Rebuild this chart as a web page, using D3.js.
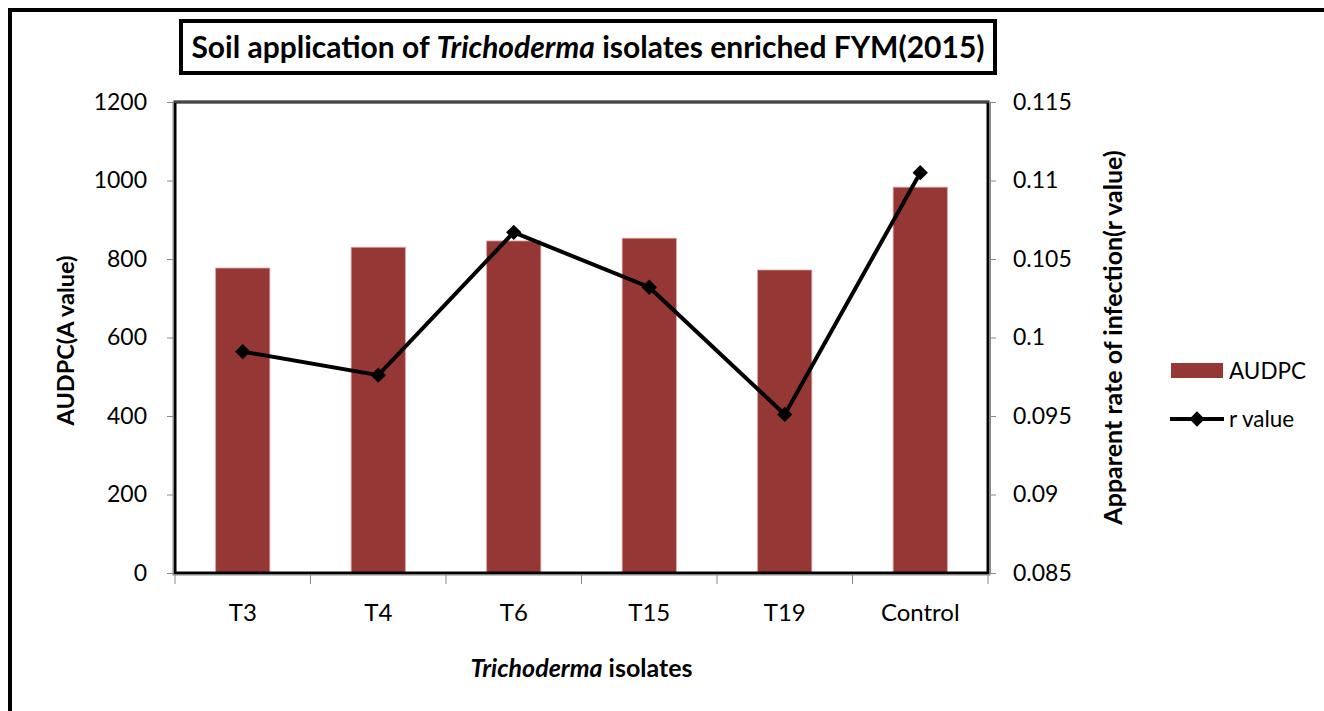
<!DOCTYPE html>
<html>
<head>
<meta charset="utf-8">
<script src="https://cdn.jsdelivr.net/npm/d3@7"></script>
<style>
  body { margin: 0; background: #fff; }
  text { font-family: Lato, "Open Sans", sans-serif; fill: #000; }
</style>
</head>
<body>
<div id="chart"></div>
<script>
/* DATA */
const isolates = ["T3", "T4", "T6", "T15", "T19", "Control"];
const audpc = [777, 830, 846, 853, 772, 983];
const rValue = [0.0991, 0.0976, 0.1067, 0.1032, 0.0951, 0.1105];
const leftTicks = [0, 200, 400, 600, 800, 1000, 1200];
const rightTicks = [0.085, 0.09, 0.095, 0.1, 0.105, 0.11, 0.115];

const width = 1324, height = 711;
const plot = { left: 175, right: 988, top: 102, bottom: 573 };
const barColor = "#953735";

const svg = d3.select("#chart").append("svg")
    .attr("width", width)
    .attr("height", height);

// outer frame (runs off the right and bottom edges)
svg.append("rect")
    .attr("x", 10).attr("y", 10)
    .attr("width", 1400).attr("height", 800)
    .attr("fill", "none").attr("stroke", "#000").attr("stroke-width", 4);

// title box
svg.append("rect")
    .attr("x", 181).attr("y", 21)
    .attr("width", 814).attr("height", 52)
    .attr("fill", "#fff").attr("stroke", "#000").attr("stroke-width", 4);

let title = svg.append("text")
    .attr("x", 588).attr("y", 58)
    .attr("text-anchor", "middle")
    .style("font-size", "30px").style("font-weight", "bold");
title.append("tspan").text("Soil application of ");
title.append("tspan").style("font-style", "italic").text("Trichoderma");
title.append("tspan").text(" isolates enriched FYM(2015)");

// scales
const x = d3.scaleBand()
    .domain(isolates)
    .range([plot.left, plot.right])
    .paddingInner(0.6)
    .paddingOuter(0.3);

const xBand = d3.scaleBand()
    .domain(isolates)
    .range([plot.left, plot.right]);

const yLeft = d3.scaleLinear().domain([0, 1200]).range([plot.bottom, plot.top]);
const yRight = d3.scaleLinear().domain([0.085, 0.115]).range([plot.bottom, plot.top]);

// bars
svg.selectAll("rect.bar")
    .data(isolates)
    .enter()
    .append("rect")
    .attr("class", "bar")
    .attr("x", d => x(d))
    .attr("width", x.bandwidth())
    .attr("y", (d, i) => yLeft(audpc[i]))
    .attr("height", (d, i) => plot.bottom - yLeft(audpc[i]))
    .attr("fill", barColor)
    .attr("stroke", "#d9a3a2")
    .attr("stroke-width", 0.8);

// plot area border (black with a grey inner line)
svg.append("rect")
    .attr("x", plot.left).attr("y", plot.top)
    .attr("width", plot.right - plot.left).attr("height", plot.bottom - plot.top)
    .attr("fill", "none").attr("stroke", "#000").attr("stroke-width", 3);
svg.append("rect")
    .attr("x", plot.left - 2).attr("y", plot.top)
    .attr("width", plot.right - plot.left + 4).attr("height", plot.bottom - plot.top + 2)
    .attr("fill", "none").attr("stroke", "#8a8a8a").attr("stroke-width", 1);

// axes
const leftAxis = svg.append("g")
    .attr("transform", `translate(${plot.left - 2},0)`)
    .call(d3.axisLeft(yLeft).tickValues(leftTicks).tickSize(6).tickPadding(20)
        .tickFormat(d => String(d)));

const rightAxis = svg.append("g")
    .attr("transform", `translate(${plot.right + 2},0)`)
    .call(d3.axisRight(yRight).tickValues(rightTicks).tickSize(6).tickPadding(17)
        .tickFormat(d => String(+d.toFixed(3))));

const bottomAxis = svg.append("g")
    .attr("transform", `translate(0,${plot.bottom + 2})`)
    .call(d3.axisBottom(xBand).tickSize(0).tickPadding(29));

// category boundary ticks
const bounds = isolates.map(d => xBand(d)).concat([plot.right]);
bottomAxis.selectAll("line.bound")
    .data(bounds)
    .enter()
    .append("line")
    .attr("class", "bound")
    .attr("x1", d => d).attr("x2", d => d)
    .attr("y1", 0).attr("y2", 9)
    .attr("stroke", "#8a8a8a");

[leftAxis, rightAxis, bottomAxis].forEach(g => {
    g.select(".domain").attr("stroke", "#8a8a8a");
    g.selectAll(".tick line").attr("stroke", "#8a8a8a");
    g.selectAll(".tick text")
        .style("font-family", "Lato, sans-serif")
        .style("font-size", "23px")
        .attr("fill", "#000");
});
bottomAxis.select(".domain").remove();
bottomAxis.selectAll(".tick text").style("font-size", "24px");

// r value line
const line = d3.line()
    .x((d, i) => xBand(isolates[i]) + xBand.bandwidth() / 2)
    .y(d => yRight(d));

svg.append("path")
    .datum(rValue)
    .attr("d", line)
    .attr("fill", "none")
    .attr("stroke", "#000")
    .attr("stroke-width", 4);

const diamond = d3.symbol().type(d3.symbolDiamond2).size(150);
svg.selectAll("path.marker")
    .data(rValue)
    .enter()
    .append("path")
    .attr("class", "marker")
    .attr("d", diamond)
    .attr("transform", (d, i) => `translate(${xBand(isolates[i]) + xBand.bandwidth() / 2},${yRight(d)})`)
    .attr("fill", "#000");

// axis titles
svg.append("text")
    .attr("transform", `translate(74,${(plot.top + plot.bottom) / 2 + 3}) rotate(-90)`)
    .attr("text-anchor", "middle")
    .style("font-size", "23.5px").style("font-weight", "bold")
    .text("AUDPC(A value)");

svg.append("text")
    .attr("transform", `translate(1122,${(plot.top + plot.bottom) / 2}) rotate(-90)`)
    .attr("text-anchor", "middle")
    .style("font-size", "25px").style("font-weight", "bold")
    .text("Apparent rate of infection(r value)");

let xTitle = svg.append("text")
    .attr("x", (plot.left + plot.right) / 2).attr("y", 677)
    .attr("text-anchor", "middle")
    .style("font-size", "25px").style("font-weight", "bold");
xTitle.append("tspan").style("font-style", "italic").text("Trichoderma");
xTitle.append("tspan").text(" isolates");

// legend
const legend = svg.append("g");
legend.append("rect")
    .attr("x", 1171).attr("y", 363)
    .attr("width", 52).attr("height", 15)
    .attr("fill", barColor);
legend.append("text")
    .attr("x", 1229).attr("y", 379)
    .style("font-size", "22.5px")
    .text("AUDPC");
legend.append("line")
    .attr("x1", 1170).attr("x2", 1224)
    .attr("y1", 419).attr("y2", 419)
    .attr("stroke", "#000").attr("stroke-width", 4);
legend.append("path")
    .attr("d", diamond)
    .attr("transform", "translate(1197,419)")
    .attr("fill", "#000");
legend.append("text")
    .attr("x", 1229).attr("y", 427)
    .style("font-size", "22.5px")
    .text("r value");
</script>
</body>
</html>
